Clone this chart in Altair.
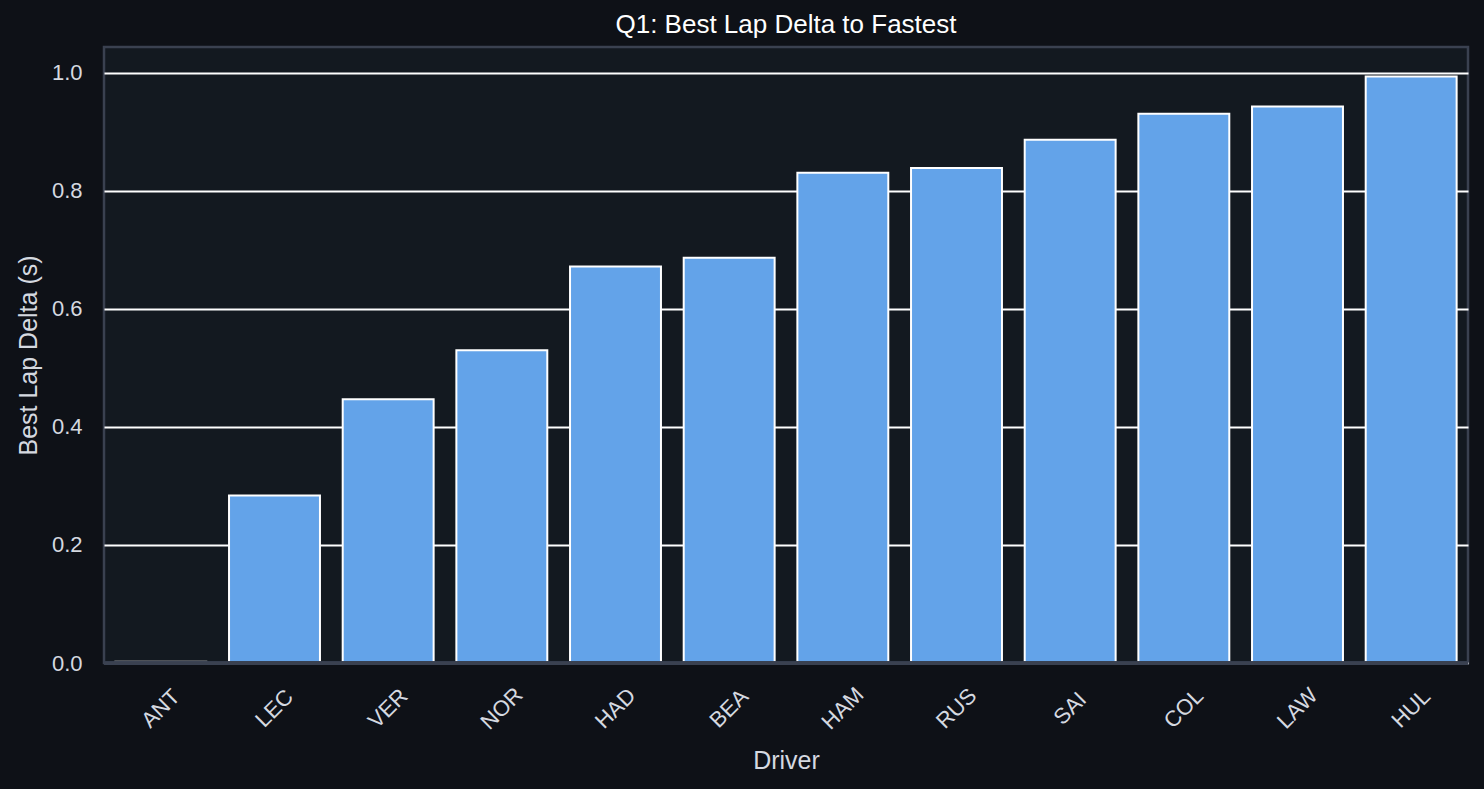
import jinja2
import pandas as pd
import altair as alt

drivers = ["ANT", "LEC", "VER", "NOR", "HAD", "BEA", "HAM", "RUS", "SAI", "COL", "LAW", "HUL"]
deltas = [0.002, 0.284, 0.447, 0.530, 0.672, 0.687, 0.831, 0.839, 0.887, 0.931, 0.943, 0.994]
y_ticks = [0.0, 0.2, 0.4, 0.6, 0.8, 1.0]

df = pd.DataFrame({"Driver": drivers, "Delta": deltas})

FONT = "Liberation Sans"
TEXT = "#d5d9e0"
BG = "#0e1117"
SPINE = "#3a4150"

# same page as altair's standard one, only with a dark body so the margin isn't white
PAGE = jinja2.Template("""<!DOCTYPE html>
<html>
<head>
  <style>
    body { background-color: #0e1117; }
    #{{ output_div }}.vega-embed { width: 100%; display: flex; }
  </style>
  <script type="text/javascript" src="{{ base_url }}/vega@{{ vega_version }}"></script>
  <script type="text/javascript" src="{{ base_url }}/vega-lite@{{ vegalite_version }}"></script>
  <script type="text/javascript" src="{{ base_url }}/vega-embed@{{ vegaembed_version }}"></script>
</head>
<body>
  <div id="{{ output_div }}"></div>
  <script type="text/javascript">
    vegaEmbed("#{{ output_div }}", {{ spec }}, {{ embed_options }}).catch(console.error);
  </script>
</body>
</html>
""")

base = alt.Chart(df)

bars = base.mark_bar(
    color="#63a3e9", stroke="white", strokeWidth=2
).encode(
    x=alt.X("Driver:N", sort=drivers, title="Driver",
            scale=alt.Scale(paddingInner=0.2, paddingOuter=0.1),
            axis=alt.Axis(labelAngle=-45, labelAlign="center", labelBaseline="middle",
                          ticks=False, labelPadding=45, grid=False, domain=False)),
    y=alt.Y("Delta:Q", title="Best Lap Delta (s)",
            scale=alt.Scale(domain=[0, 1.044], nice=False),
            axis=alt.Axis(values=y_ticks, format=".1f",
                          ticks=False, domain=False, labelPadding=22,
                          gridColor="white", gridWidth=2, gridOpacity=1)),
)

# bottom spine sits on top of the bars, like matplotlib's
spine = base.mark_rule(color=SPINE, strokeWidth=2.5).encode(
    y=alt.datum(0), x=alt.value(0), x2=alt.value(1364)
)

chart = alt.layer(bars, spine).properties(
    width=1364, height=616,
    title="Q1: Best Lap Delta to Fastest",
    autosize=alt.AutoSizeParams(type="none"),
    padding={"left": 96, "top": 39, "right": 8, "bottom": 110},
    background=BG,
).configure_view(
    fill="#131920", stroke=SPINE, strokeWidth=2.5
).configure_axis(
    labelFont=FONT, titleFont=FONT, labelColor=TEXT, titleColor=TEXT,
    labelFontSize=22, titleFontSize=25, titleFontWeight="normal",
).configure_axisY(titlePadding=10).configure_axisX(titlePadding=15).configure_title(
    font=FONT, fontSize=26, fontWeight="normal", color="white", offset=9
)

chart.save("out.html", embed_options={"renderer": "svg", "actions": False}, template=PAGE)
